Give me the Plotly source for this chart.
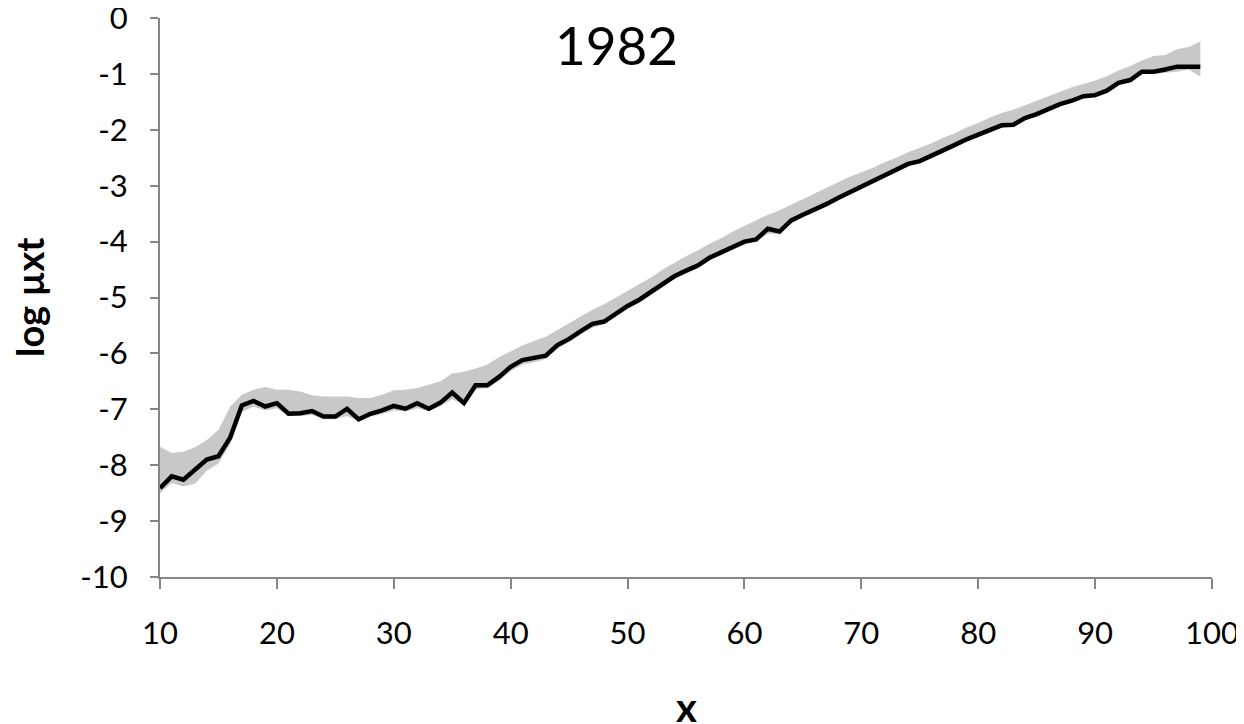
import plotly.graph_objects as go

ages = list(range(10, 100))

log_mu = [-8.41, -8.20, -8.26, -8.09, -7.90, -7.84, -7.51, -6.93, -6.85, -6.95,
          -6.89, -7.08, -7.07, -7.03, -7.13, -7.13, -6.99, -7.18, -7.08, -7.02,
          -6.94, -6.99, -6.89, -6.99, -6.88, -6.70, -6.89, -6.57, -6.57, -6.42,
          -6.24, -6.12, -6.08, -6.04, -5.85, -5.74, -5.60, -5.47, -5.43, -5.29,
          -5.15, -5.04, -4.90, -4.76, -4.62, -4.52, -4.43, -4.29, -4.20, -4.10,
          -4.00, -3.96, -3.77, -3.82, -3.62, -3.52, -3.43, -3.33, -3.22, -3.12,
          -3.02, -2.93, -2.82, -2.72, -2.61, -2.56, -2.47, -2.37, -2.27, -2.17,
          -2.08, -1.99, -1.92, -1.91, -1.79, -1.72, -1.63, -1.54, -1.48, -1.40,
          -1.38, -1.30, -1.16, -1.11, -0.96, -0.96, -0.92, -0.87, -0.87, -0.87]

band_upper = [-7.67, -7.78, -7.76, -7.68, -7.55, -7.37, -6.95, -6.74, -6.65, -6.60,
              -6.65, -6.65, -6.68, -6.75, -6.77, -6.77, -6.77, -6.80, -6.80, -6.74,
              -6.66, -6.65, -6.62, -6.56, -6.50, -6.36, -6.33, -6.27, -6.20, -6.07,
              -5.96, -5.86, -5.78, -5.70, -5.58, -5.46, -5.34, -5.22, -5.12, -5.00,
              -4.88, -4.76, -4.64, -4.50, -4.38, -4.26, -4.16, -4.04, -3.94, -3.82,
              -3.72, -3.62, -3.52, -3.44, -3.34, -3.24, -3.14, -3.04, -2.94, -2.84,
              -2.76, -2.68, -2.58, -2.50, -2.40, -2.32, -2.24, -2.14, -2.06, -1.96,
              -1.88, -1.78, -1.70, -1.64, -1.56, -1.48, -1.40, -1.32, -1.24, -1.18,
              -1.12, -1.04, -0.94, -0.86, -0.76, -0.68, -0.66, -0.56, -0.52, -0.42]

band_lower = [-8.50, -8.32, -8.38, -8.33, -8.10, -7.97, -7.62, -7.05, -6.95, -7.02,
              -6.98, -7.12, -7.12, -7.10, -7.18, -7.18, -7.12, -7.21, -7.13, -7.09,
              -7.02, -7.04, -6.98, -7.03, -6.94, -6.82, -6.92, -6.64, -6.62, -6.50,
              -6.32, -6.20, -6.16, -6.10, -5.92, -5.80, -5.66, -5.54, -5.48, -5.34,
              -5.20, -5.10, -4.95, -4.81, -4.67, -4.57, -4.48, -4.34, -4.25, -4.14,
              -4.05, -4.00, -3.86, -3.86, -3.67, -3.57, -3.47, -3.37, -3.26, -3.16,
              -3.06, -2.97, -2.86, -2.76, -2.65, -2.60, -2.51, -2.41, -2.31, -2.21,
              -2.12, -2.03, -1.96, -1.95, -1.83, -1.76, -1.67, -1.58, -1.52, -1.44,
              -1.42, -1.34, -1.20, -1.15, -1.00, -1.00, -0.98, -0.96, -0.92, -1.05]

x_ticks = [10, 20, 30, 40, 50, 60, 70, 80, 90, 100]
y_ticks = [0, -1, -2, -3, -4, -5, -6, -7, -8, -9, -10]

FONT = "Lato"
GREY = "#C8C8C8"
AXIS = "#868686"

fig = go.Figure()
fig.add_trace(go.Scatter(x=ages, y=band_lower, mode="lines",
                         line=dict(width=0, color=GREY), showlegend=False,
                         hoverinfo="skip"))
fig.add_trace(go.Scatter(x=ages, y=band_upper, mode="lines", fill="tonexty",
                         fillcolor=GREY, line=dict(width=0, color=GREY),
                         showlegend=False, hoverinfo="skip"))
fig.add_trace(go.Scatter(x=ages, y=log_mu, mode="lines",
                         line=dict(color="black", width=4.5), showlegend=False))

fig.update_layout(
    width=1236, height=716,
    margin=dict(l=152, r=32, t=10, b=147),
    paper_bgcolor="white", plot_bgcolor="white",
    font=dict(family=FONT, color="black", size=31),
    xaxis=dict(range=[10, 100], tickvals=x_ticks, ticktext=[str(v) for v in x_ticks],
               showgrid=False, zeroline=False, showline=True, linecolor=AXIS,
               linewidth=2, ticks="outside", ticklen=10, tickwidth=2,
               tickcolor=AXIS, ticklabelstandoff=18, ticklabeloverflow="allow",
               automargin=False,
               tickfont=dict(family=FONT, size=31, color="black")),
    yaxis=dict(range=[-10, 0], tickvals=y_ticks, ticktext=[str(v) for v in y_ticks],
               showgrid=False, zeroline=False, showline=True, linecolor=AXIS,
               linewidth=2, ticks="outside", ticklen=8, tickwidth=2,
               tickcolor=AXIS, ticklabelstandoff=16, ticklabeloverflow="allow",
               automargin=False,
               tickfont=dict(family=FONT, size=31, color="black")),
    annotations=[
        dict(text="1982", x=0.4335, y=0.952, xref="paper", yref="paper",
             xanchor="center", yanchor="middle", showarrow=False,
             font=dict(family=FONT, size=53, color="black")),
        dict(text="<b>x</b>", x=0.5, y=-0.232, xref="paper", yref="paper",
             xanchor="center", yanchor="middle", showarrow=False,
             font=dict(family=FONT, size=40, color="black")),
        dict(text="<b>log µxt</b>", x=-0.1250, y=0.5, xref="paper", yref="paper",
             xanchor="center", yanchor="middle", showarrow=False, textangle=-90,
             font=dict(family=FONT, size=38, color="black")),
    ],
)

fig.write_html("out.html")
